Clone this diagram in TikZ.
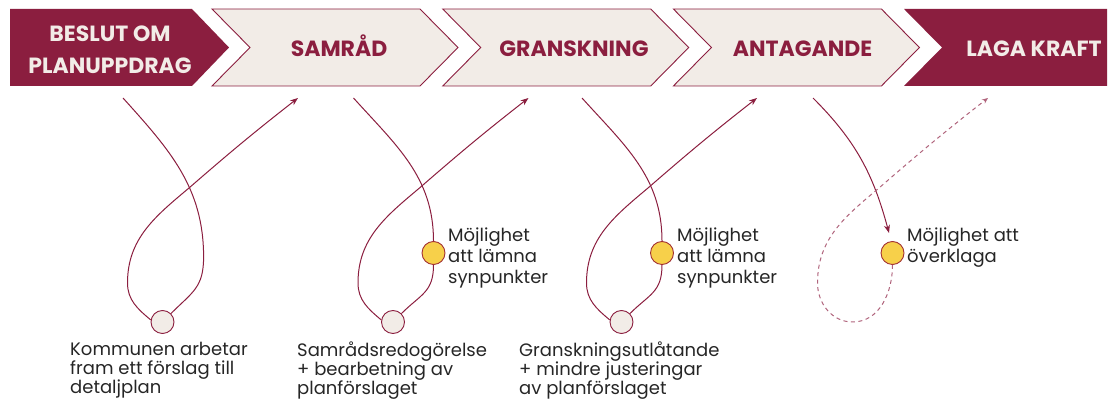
\documentclass[tikz,border=0pt]{standalone}
\usepackage{fontspec}
\setmainfont{Poppins}
\usetikzlibrary{arrows.meta}
\definecolor{maroon}{RGB}{139,30,63}
\definecolor{paper}{RGB}{242,236,231}
\definecolor{sun}{RGB}{247,208,74}
\definecolor{dashc}{RGB}{176,100,124}
\begin{document}
\begin{tikzpicture}[x=1pt,y=1pt,
  darkchev/.style={fill=maroon},
  lightchev/.style={fill=paper,draw=maroon,line width=0.9pt},
  headdark/.style={font=\bfseries\fontsize{22}{32}\selectfont,text=paper,align=center,inner sep=0},
  headlight/.style={font=\bfseries\fontsize{22}{32}\selectfont,text=maroon,inner sep=0,anchor=base},
  lbl/.style={font=\fontsize{18}{19}\selectfont,text=black!85,align=left,inner sep=0,anchor=north west},
  lblr/.style={lbl,font=\fontsize{18}{21}\selectfont},
  flow/.style={draw=maroon,line width=1pt},
  flowdash/.style={draw=dashc,line width=1pt,dash pattern=on 4pt off 3.5pt},
  tipend/.style={-{Stealth[length=8pt,width=6pt]}},
  dot/.style={circle,minimum size=23pt,inner sep=0,line width=0.9pt},
  startdot/.style={dot,fill=paper,draw=maroon},
  sundot/.style={dot,fill=sun,draw=maroon!80!orange}
]
\useasboundingbox (0,0) rectangle (1111,401);
% chevrons
\path[darkchev] (10,392) -- (192,392) -- (229,353.5) -- (192,315) -- (10,315) -- cycle;
\foreach \d in {0,230.7,461.4}{
  \path[lightchev] (212+\d,392) -- (420+\d,392) -- (458+\d,353.5) -- (420+\d,315) -- (212+\d,315) -- (250+\d,353.5) -- cycle;
}
\path[darkchev] (904,392) -- (1107,392) -- (1107,315) -- (904,315) -- (942,353.5) -- cycle;
% headings
\node[headdark] (h1) at (110,351) {BESLUT OM\\PLANUPPDRAG};
\node[headlight] (h2) at (339,344.3) {SAMRÅD};
\node[headlight] (h3) at (574,344.3) {GRANSKNING};
\node[headlight] (h4) at (802.6,344.3) {ANTAGANDE};
\node[headlight,text=paper] (h5) at (1034,344.3) {LAGA KRAFT};
% loop 1
\coordinate (s1) at (123,303);
\coordinate (R1) at (203.6,144);
\coordinate (L1) at (127.5,118);
\coordinate (X1) at (189,213);
\coordinate (e1) at (298,303);
\node[startdot] (c1) at (162.5,79) {};
\draw[flow] (s1) to[out=-48,in=90] (R1) to[out=-90,in=45,looseness=1.2] (c1.45);
\draw[flow,tipend] (c1.170) to[out=140,in=-90] (L1) to[out=90,in=220] (X1) to[out=41,in=218] (e1);
% loop 2
\coordinate (s2) at (353.5,303);
\coordinate (L2) at (358,118);
\coordinate (X2) at (419.5,213);
\coordinate (e2) at (528.5,303);
\node[startdot] (c2) at (393,79) {};
\node[sundot] (y2) at (433.5,148) {};
\draw[flow] (s2) to[out=-48,in=90] (y2.north);
\draw[flow] (y2.south) to[out=-90,in=45,looseness=1.2] (c2.45);
\draw[flow,tipend] (c2.170) to[out=140,in=-90] (L2) to[out=90,in=220] (X2) to[out=41,in=218] (e2);
% loop 3
\coordinate (s3) at (582,303);
\coordinate (L3) at (586.5,118);
\coordinate (X3) at (648,213);
\coordinate (e3) at (757,303);
\node[startdot] (c3) at (621.5,79) {};
\node[sundot] (y3) at (662,148) {};
\draw[flow] (s3) to[out=-48,in=90] (y3.north);
\draw[flow] (y3.south) to[out=-90,in=45,looseness=1.2] (c3.45);
\draw[flow,tipend] (c3.170) to[out=140,in=-90] (L3) to[out=90,in=220] (X3) to[out=41,in=218] (e3);
% loop 4
\coordinate (s4) at (813,303);
\coordinate (a4) at (889,168);
\coordinate (B4) at (852.5,79);
\coordinate (L4) at (817.5,118);
\coordinate (X4) at (879,213);
\coordinate (e4) at (988,303);
\node[sundot] (y4) at (892.5,148) {};
\draw[flow,tipend] (s4) to[out=-45,in=105] (a4);
\draw[flowdash,-{Stealth[length=6pt,width=5pt]}] (y4.south) to[out=-90,in=0] (B4) to[out=180,in=-90] (L4) to[out=90,in=220] (X4) to[out=41,in=218] (e4);
% labels
\node[lbl] (t1) at (70,59) {Kommunen arbetar\\fram ett förslag till\\detaljplan};
\node[lbl] (t2) at (297,59) {Samrådsredogörelse\\+ bearbetning av\\planförslaget};
\node[lbl] (t3) at (519,59) {Granskningsutlåtande\\+ mindre justeringar\\av planförslaget};
\node[lblr] (m2) at (448,173) {Möjlighet\\att lämna\\synpunkter};
\node[lblr] (m3) at (677,173) {Möjlighet\\att lämna\\synpunkter};
\node[lblr] (m4) at (907,173) {Möjlighet att\\överklaga};
\end{tikzpicture}
\end{document}
